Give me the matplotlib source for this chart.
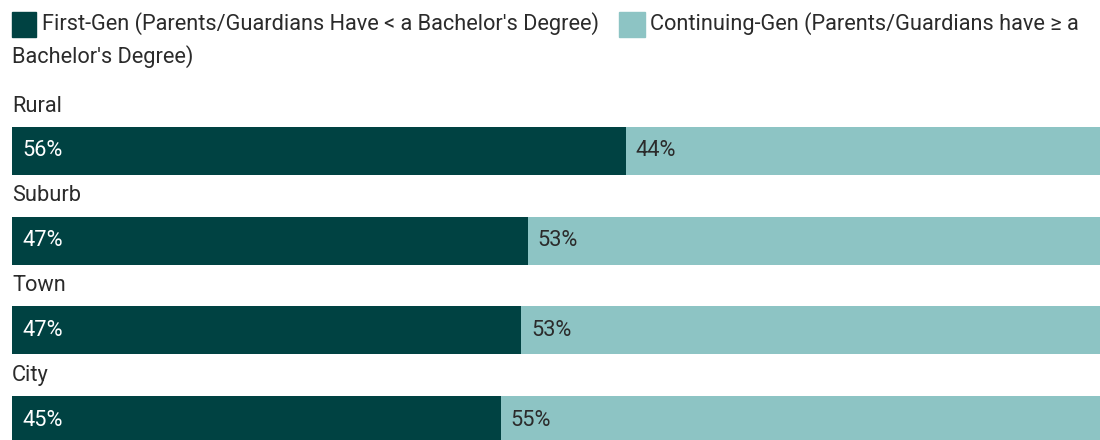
import matplotlib
matplotlib.use("Agg")
import matplotlib.pyplot as plt
from matplotlib.patches import Rectangle

plt.rcParams['font.family'] = ['Roboto', 'DejaVu Sans']

categories = ["Rural", "Suburb", "Town", "City"]
first_gen = [56.4, 47.4, 46.8, 44.9]
continuing_gen = [43.6, 52.6, 53.2, 55.1]
series_names = ["First-Gen (Parents/Guardians Have < a Bachelor's Degree)",
                "Continuing-Gen (Parents/Guardians have \u2265 a Bachelor's Degree)"]

DARK = "#004242"
LIGHT = "#8DC4C4"
TXT = "#2b2b2b"
FS = 15.7

W, H = 1100, 440
fig = plt.figure(figsize=(W / 100, H / 100), dpi=100)
left_px, right_px = 12, 1100
ax = fig.add_axes([left_px / W, 0, (right_px - left_px) / W, 1])
ax.set_xlim(0, 100)
ax.set_ylim(H, 0)
ax.axis("off")

y0, step, bh = 151, 89.7, 48
centers = [y0 + i * step for i in range(len(categories))]

ax.barh(centers, first_gen, height=bh, color=DARK, left=0)
ax.barh(centers, continuing_gen, height=bh, color=LIGHT, left=first_gen)

px = 100 / (right_px - left_px)  # data units per pixel
for c, cat, f, g in zip(centers, categories, first_gen, continuing_gen):
    ax.text(0, c - bh / 2 - 21, cat, ha="left", va="center", fontsize=FS, color=TXT)
    ax.text(10 * px, c, f"{round(f)}%", ha="left", va="center", fontsize=FS, color="white")
    ax.text(f + 10 * px, c, f"{round(g)}%", ha="left", va="center", fontsize=FS, color=TXT)

# Legend drawn in figure pixel coordinates
def fx(x):
    return x / W

def fy(y):
    return 1 - y / H

fig.patches.append(Rectangle((fx(12), fy(37)), 24 / W, 25 / H, transform=fig.transFigure,
                             color=DARK, figure=fig))
fig.text(fx(42), fy(24), series_names[0], ha="left", va="center", fontsize=FS, color=TXT)
fig.patches.append(Rectangle((fx(619), fy(37)), 26 / W, 25 / H, transform=fig.transFigure,
                             color=LIGHT, figure=fig))
name2 = series_names[1]
split = name2.index("Bachelor")
fig.text(fx(650), fy(24), name2[:split].rstrip(), ha="left", va="center", fontsize=FS, color=TXT)
fig.text(fx(12), fy(57), name2[split:], ha="left", va="center", fontsize=FS, color=TXT)

fig.savefig("out.png", dpi=100, facecolor="white")
